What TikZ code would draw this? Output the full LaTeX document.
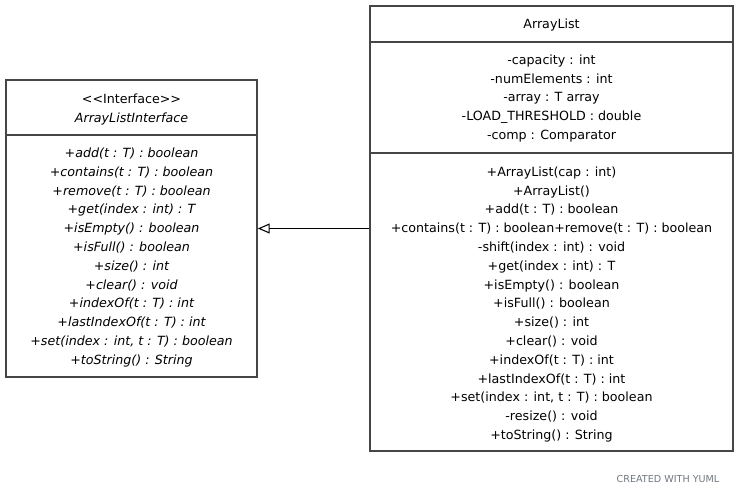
\documentclass[tikz,border=0pt]{standalone}
\usepackage{fontspec}
\setmainfont{DejaVu Sans}
\usepackage{tikz}
\usetikzlibrary{arrows.meta}

\definecolor{umlline}{RGB}{70,70,70}
\definecolor{yumlgrey}{RGB}{112,120,128}

\begin{document}
\begin{tikzpicture}[x=0.75pt,y=0.75pt,yscale=-1,xscale=1]
\tikzset{
  classbox/.style={draw=umlline, line width=1.1pt, fill=white, inner sep=0pt},
  member/.style={inner sep=0.75pt, align=center, font=\fontsize{9.5}{14.1}\selectfont},
  divider/.style={draw=umlline, line width=1.1pt},
  realize/.style={draw=black, line width=0.8pt, -{Triangle[open,length=9pt,width=7.5pt,fill=white]}}
}
%set diagram size
\useasboundingbox (0,0) rectangle (738,495);

%Shape: Interface box
\node [classbox, minimum width=188.25pt, minimum height=222.75pt] (iface) at (131.5,228.5) {};

%Straight Lines: interface divider
\draw [divider] (iface.west |- 0,135) -- (iface.east |- 0,135);

%Shape: ArrayList box
\node [classbox, minimum width=272.25pt, minimum height=333.75pt] (alist) at (551.5,228.5) {};

%Straight Lines: ArrayList dividers
\draw [divider] (alist.west |- 0,42) -- (alist.east |- 0,42);
\draw [divider] (alist.west |- 0,153) -- (alist.east |- 0,153);

%Straight Lines: realization
\draw [realize] (alist.west) -- (iface.east);

% Text Node
\node [member] (ifacename) at (131.5,109.5) {{<}{<}Interface{>}{>}\\\textit{ArrayListInterface}};

% Text Node
\node [member, font=\fontsize{9.5}{14.1}\selectfont\itshape] (ifaceops) at (131.5,257.5) {+add(t : T) : boolean\\+contains(t : T) : boolean\\+remove(t : T) : boolean\\+get(index : int) : T\\+isEmpty() : boolean\\+isFull() : boolean\\+size() : int\\+clear() : void\\+indexOf(t : T) : int\\+lastIndexOf(t : T) : int\\+set(index : int, t : T) : boolean\\+toString() : String};

% Text Node
\node [member] (alistname) at (551.5,25) {ArrayList};

% Text Node
\node [member] (alistattrs) at (551.5,98.5) {-capacity : int\\-numElements : int\\-array : T array\\-LOAD\_THRESHOLD : double\\-comp : Comparator};

% Text Node
\node [member] (alistops) at (551.5,304.5) {+ArrayList(cap : int)\\+ArrayList()\\+add(t : T) : boolean\\+contains(t : T) : boolean+remove(t : T) : boolean\\-shift(index : int) : void\\+get(index : int) : T\\+isEmpty() : boolean\\+isFull() : boolean\\+size() : int\\+clear() : void\\+indexOf(t : T) : int\\+lastIndexOf(t : T) : int\\+set(index : int, t : T) : boolean\\-resize() : void\\+toString() : String};

% Text Node
\node [inner sep=0pt, text=yumlgrey, font=\fontsize{7.2}{8}\selectfont] (credit) at (668,479) {CREATED WITH YUML};

\end{tikzpicture}
\end{document}
